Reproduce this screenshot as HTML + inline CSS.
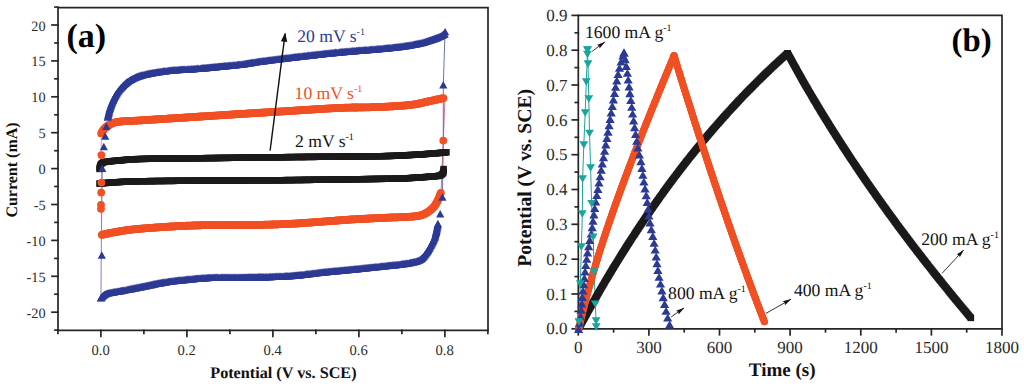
<!DOCTYPE html>
<html><head><meta charset="utf-8"><style>
html,body{margin:0;padding:0;background:#fff;width:1024px;height:387px;overflow:hidden}
svg{display:block}
text{font-family:"Liberation Serif",serif;text-rendering:geometricPrecision}
</style></head><body>
<svg width="1024" height="387" viewBox="0 0 1024 387">
<rect width="1024" height="387" fill="#fff"/>
<defs>
<marker id="sqK" markerUnits="userSpaceOnUse" markerWidth="8" markerHeight="8" refX="4" refY="4" overflow="visible"><rect x="0.8" y="0.8" width="6.4" height="6.4" fill="#1c1a1a"/></marker>
<marker id="ciR" markerUnits="userSpaceOnUse" markerWidth="9" markerHeight="9" refX="4.5" refY="4.5" overflow="visible"><circle cx="4.5" cy="4.5" r="3.9" fill="#f15024"/></marker>
<marker id="trB" markerUnits="userSpaceOnUse" markerWidth="9" markerHeight="9" refX="4.5" refY="4.5" overflow="visible"><path d="M4.5,0.8 L8.6,8.2 L0.4,8.2 Z" fill="#2d3a94"/></marker>
<marker id="ciR2" markerUnits="userSpaceOnUse" markerWidth="10" markerHeight="10" refX="5" refY="5" overflow="visible"><circle cx="5" cy="5" r="3.5" fill="#f15024"/></marker>
<marker id="sqK2" markerUnits="userSpaceOnUse" markerWidth="8" markerHeight="8" refX="4" refY="4" overflow="visible"><rect x="0.85" y="0.85" width="6.3" height="6.3" fill="#1c1a1a"/></marker>
<marker id="trB2" markerUnits="userSpaceOnUse" markerWidth="10" markerHeight="10" refX="5" refY="5" overflow="visible"><path d="M5,1.0 L9.6,8.9 L0.4,8.9 Z" fill="#2d3a94"/></marker>
<marker id="tdT" markerUnits="userSpaceOnUse" markerWidth="10" markerHeight="10" refX="5" refY="5" overflow="visible"><path d="M0.6,1.35 L9.4,1.35 L5,8.65 Z" fill="#1aa59b"/></marker>
<marker id="ah" markerUnits="userSpaceOnUse" markerWidth="10" markerHeight="8" refX="8" refY="4" orient="auto" overflow="visible"><path d="M0,0.8 L9,4 L0,7.2 Z" fill="#111"/></marker>
<marker id="ahS" markerUnits="userSpaceOnUse" markerWidth="9" markerHeight="6" refX="8" refY="3" orient="auto" overflow="visible"><path d="M0,0.8 L8.5,3 L0,5.2 L1.2,3 Z" fill="#111"/></marker>
</defs>
<g stroke="#262626" stroke-width="1.7" fill="none" stroke-linecap="square">
<path d="M58,7.6 H488 V330.3 H58 Z"/>
<path d="M55,330.1 H58"/>
<path d="M52,312.2 H58"/>
<path d="M55,294.2 H58"/>
<path d="M52,276.3 H58"/>
<path d="M55,258.4 H58"/>
<path d="M52,240.4 H58"/>
<path d="M55,222.4 H58"/>
<path d="M52,204.5 H58"/>
<path d="M55,186.5 H58"/>
<path d="M52,168.6 H58"/>
<path d="M55,150.7 H58"/>
<path d="M52,132.7 H58"/>
<path d="M55,114.8 H58"/>
<path d="M52,96.8 H58"/>
<path d="M55,78.8 H58"/>
<path d="M52,60.9 H58"/>
<path d="M55,43.0 H58"/>
<path d="M52,25.0 H58"/>
<path d="M55,7.1 H58"/>
<path d="M57.9,330.3 V333.3"/>
<path d="M100.9,330.3 V336.3"/>
<path d="M143.9,330.3 V333.3"/>
<path d="M186.9,330.3 V336.3"/>
<path d="M229.9,330.3 V333.3"/>
<path d="M272.9,330.3 V336.3"/>
<path d="M315.9,330.3 V333.3"/>
<path d="M358.9,330.3 V336.3"/>
<path d="M401.9,330.3 V333.3"/>
<path d="M444.9,330.3 V336.3"/>
<path d="M487.9,330.3 V333.3"/>
</g>
<g font-family="Liberation Serif" font-size="14.3" fill="#2a2a2a" text-anchor="end">
<text x="45.6" y="317.7">-20</text>
<text x="45.6" y="281.8">-15</text>
<text x="45.6" y="245.9">-10</text>
<text x="45.6" y="210.0">-5</text>
<text x="45.6" y="174.1">0</text>
<text x="45.6" y="138.2">5</text>
<text x="45.6" y="102.3">10</text>
<text x="45.6" y="66.4">15</text>
<text x="45.6" y="30.5">20</text>
</g>
<g font-family="Liberation Serif" font-size="14.6" fill="#2a2a2a" text-anchor="middle">
<text x="100.6" y="354.9">0.0</text>
<text x="186.6" y="354.9">0.2</text>
<text x="272.6" y="354.9">0.4</text>
<text x="358.6" y="354.9">0.6</text>
<text x="444.6" y="354.9">0.8</text>
</g>
<text x="283.4" y="378.4" font-family="Liberation Serif" font-weight="bold" font-size="16.2" text-anchor="middle" fill="#111">Potential (V vs. SCE)</text>
<text transform="translate(16.6,170) rotate(-90)" font-family="Liberation Serif" font-weight="bold" font-size="16" text-anchor="middle" fill="#111">Current (mA)</text>
<text x="66.4" y="46.6" font-family="Liberation Serif" font-weight="bold" font-size="34" fill="#000">(a)</text>
<path d="M445,32 L443.3,85 L443.3,141 L442.4,197.4" stroke="#2d3a94" stroke-width="0.9" fill="none" opacity="0.8"/>
<path d="M445,98 L443.3,141 L441,193" stroke="#c04060" stroke-width="0.9" fill="none" opacity="0.8"/>
<path d="M101,297 L101.2,255 L102.3,168" stroke="#2d3a94" stroke-width="0.9" fill="none" opacity="0.7"/>
<path d="M101.5,235 L101.3,208 L101.5,182 L101.2,134" stroke="#e06a70" stroke-width="0.9" fill="none" opacity="0.8"/>
<polyline fill="none" stroke="none" marker-start="url(#sqK)" marker-mid="url(#sqK)" marker-end="url(#sqK)" points="99.5,169.0 99.7,168.0 99.9,166.9 100.2,165.7 100.6,164.8 101.2,163.9 102.1,163.1 103.0,162.5 104.1,162.1 105.2,161.9 106.4,161.8 107.5,161.7 108.6,161.5 109.7,161.4 110.7,161.3 111.8,161.1 113.0,161.0 114.0,160.9 115.1,160.8 116.3,160.7 117.5,160.6 118.5,160.5 119.6,160.4 120.7,160.3 121.8,160.3 122.9,160.1 124.0,160.0 125.1,159.9 126.1,159.8 127.2,159.7 128.4,159.6 129.5,159.5 130.6,159.4 131.7,159.4 132.8,159.3 134.0,159.3 135.3,159.2 136.3,159.1 137.4,159.1 138.6,159.1 139.9,159.0 141.2,159.0 142.6,158.9 144.1,158.9 145.1,158.9 146.2,158.9 147.3,158.8 148.4,158.8 149.6,158.8 150.6,158.8 151.6,158.7 152.6,158.7 153.7,158.7 154.8,158.7 155.9,158.7 157.1,158.7 158.2,158.6 159.4,158.6 160.6,158.6 161.8,158.6 163.0,158.6 164.2,158.6 165.2,158.6 166.2,158.5 167.3,158.5 168.3,158.5 169.3,158.5 170.4,158.5 171.4,158.5 172.5,158.5 173.5,158.5 174.6,158.4 175.7,158.4 176.8,158.4 177.8,158.4 178.9,158.4 180.0,158.4 181.1,158.4 182.2,158.4 183.3,158.4 184.4,158.3 185.5,158.3 186.6,158.3 187.8,158.3 188.9,158.3 190.0,158.3 191.1,158.3 192.2,158.3 193.3,158.3 194.4,158.3 195.5,158.2 196.6,158.2 197.8,158.2 198.9,158.2 200.0,158.2 201.1,158.2 202.1,158.2 203.2,158.2 204.3,158.2 205.4,158.1 206.5,158.1 207.5,158.1 208.6,158.1 209.7,158.1 210.7,158.1 211.8,158.1 212.8,158.1 213.8,158.1 214.8,158.0 215.9,158.0 216.9,158.0 218.1,158.0 219.1,158.0 220.1,158.0 221.1,158.0 222.1,157.9 223.4,157.9 224.6,157.9 225.9,157.9 227.1,157.9 228.3,157.9 229.5,157.9 230.8,157.8 232.0,157.8 233.2,157.8 234.4,157.8 235.6,157.8 236.8,157.8 238.0,157.7 239.2,157.7 240.4,157.7 241.6,157.7 242.8,157.7 244.0,157.7 245.2,157.7 246.4,157.6 247.6,157.6 248.8,157.6 250.0,157.6 251.2,157.6 252.4,157.6 253.7,157.5 254.9,157.5 256.1,157.5 257.3,157.5 258.5,157.5 259.7,157.5 261.0,157.4 262.2,157.4 263.4,157.4 264.7,157.4 265.9,157.4 266.9,157.4 267.9,157.4 269.0,157.3 270.0,157.3 271.0,157.3 272.0,157.3 273.0,157.3 274.1,157.3 275.1,157.3 276.2,157.3 277.2,157.2 278.3,157.2 279.3,157.2 280.4,157.2 281.5,157.2 282.5,157.2 283.6,157.2 284.7,157.2 285.8,157.1 286.9,157.1 288.0,157.1 289.2,157.1 290.2,157.1 291.4,157.1 292.5,157.1 293.7,157.1 294.9,157.0 296.1,157.0 297.3,157.0 298.5,157.0 299.8,157.0 300.8,157.0 301.8,157.0 302.8,157.0 303.8,157.0 304.9,157.0 305.9,156.9 307.0,156.9 308.0,156.9 309.1,156.9 310.2,156.9 311.2,156.9 312.3,156.9 313.4,156.9 314.5,156.9 315.6,156.9 316.7,156.8 317.8,156.8 318.9,156.8 320.0,156.8 321.1,156.8 322.2,156.8 323.3,156.8 324.4,156.8 325.5,156.8 326.6,156.8 327.7,156.8 328.9,156.7 330.0,156.7 331.1,156.7 332.2,156.7 333.3,156.7 334.4,156.7 335.5,156.7 336.6,156.7 337.8,156.7 338.9,156.7 340.0,156.7 341.1,156.6 342.1,156.6 343.2,156.6 344.3,156.6 345.4,156.6 346.5,156.6 347.6,156.6 348.6,156.6 349.7,156.6 350.7,156.6 351.8,156.5 352.8,156.5 353.9,156.5 354.9,156.5 355.9,156.5 356.9,156.5 357.9,156.5 359.2,156.5 360.4,156.5 361.6,156.4 362.8,156.4 364.0,156.4 365.2,156.4 366.3,156.4 367.5,156.4 368.6,156.4 369.7,156.4 370.7,156.3 371.8,156.3 372.8,156.3 373.9,156.3 375.1,156.3 376.2,156.3 377.3,156.2 378.4,156.2 379.5,156.2 380.9,156.2 382.3,156.2 383.6,156.1 384.9,156.1 386.1,156.1 387.2,156.0 388.3,156.0 389.4,156.0 390.4,156.0 391.7,155.9 393.0,155.9 394.1,155.8 395.2,155.8 396.3,155.8 397.3,155.7 398.5,155.7 399.6,155.6 400.7,155.6 401.7,155.5 402.8,155.5 403.9,155.4 405.0,155.3 406.0,155.3 407.0,155.2 408.1,155.1 409.1,155.1 410.2,155.0 411.3,155.0 412.6,154.9 413.9,154.8 415.2,154.7 416.4,154.7 417.5,154.6 418.6,154.5 419.7,154.5 420.8,154.4 421.8,154.3 423.0,154.3 424.2,154.2 425.3,154.1 426.4,154.0 427.5,153.9 428.6,153.8 429.7,153.8 430.8,153.7 432.0,153.6 433.2,153.5 434.4,153.4 435.5,153.3 436.7,153.2 437.9,153.1 439.1,153.0 440.2,152.9 441.2,152.8 442.3,152.7 443.5,152.6 444.5,152.5 445.6,152.4 446.5,152.3"/>
<polyline fill="none" stroke="none" marker-start="url(#sqK)" marker-mid="url(#sqK)" marker-end="url(#sqK)" points="443.6,169.0 443.6,170.0 443.5,171.2 443.4,172.3 443.0,173.2 442.3,174.0 441.5,174.7 440.5,175.3 439.5,175.7 438.4,175.9 437.3,176.0 436.0,176.2 434.8,176.3 433.8,176.4 432.6,176.5 431.4,176.6 430.3,176.7 429.2,176.7 428.0,176.8 426.8,176.9 425.7,177.0 424.5,177.1 423.3,177.2 422.3,177.2 421.2,177.3 420.1,177.4 419.0,177.5 418.0,177.5 416.9,177.6 415.8,177.7 414.8,177.7 413.7,177.8 412.5,177.9 411.5,178.0 410.5,178.0 409.3,178.1 408.2,178.2 407.0,178.3 405.9,178.3 404.7,178.4 403.5,178.5 402.4,178.5 401.3,178.6 400.0,178.6 398.9,178.6 397.8,178.7 396.8,178.7 395.7,178.7 394.5,178.7 393.4,178.7 392.2,178.7 391.1,178.8 389.7,178.8 388.6,178.8 387.3,178.8 385.9,178.8 384.9,178.8 383.8,178.8 382.6,178.9 381.3,178.9 380.0,178.9 378.9,178.9 377.7,178.9 376.7,178.9 375.6,179.0 374.5,179.0 373.4,179.0 372.2,179.0 371.2,179.0 370.1,179.0 369.1,179.1 368.0,179.1 366.9,179.1 365.7,179.1 364.6,179.1 363.4,179.1 362.2,179.2 361.0,179.2 359.8,179.2 358.6,179.2 357.6,179.2 356.6,179.2 355.5,179.2 354.5,179.3 353.5,179.3 352.4,179.3 351.4,179.3 350.3,179.3 349.2,179.3 348.2,179.4 347.1,179.4 346.0,179.4 344.9,179.4 343.8,179.4 342.7,179.4 341.6,179.4 340.5,179.5 339.4,179.5 338.2,179.5 337.1,179.5 336.0,179.5 334.9,179.5 333.7,179.6 332.6,179.6 331.5,179.6 330.3,179.6 329.2,179.6 328.1,179.6 326.9,179.6 325.8,179.7 324.6,179.7 323.5,179.7 322.4,179.7 321.3,179.7 320.1,179.7 319.0,179.8 317.9,179.8 316.8,179.8 315.6,179.8 314.5,179.8 313.4,179.8 312.3,179.8 311.2,179.9 310.1,179.9 309.0,179.9 308.0,179.9 306.9,179.9 305.8,179.9 304.8,179.9 303.7,179.9 302.7,180.0 301.6,180.0 300.6,180.0 299.6,180.0 298.6,180.0 297.3,180.0 296.1,180.0 294.9,180.0 293.7,180.1 292.5,180.1 291.4,180.1 290.2,180.1 289.2,180.1 288.0,180.1 286.9,180.1 285.8,180.1 284.7,180.1 283.6,180.2 282.5,180.2 281.5,180.2 280.4,180.2 279.3,180.2 278.3,180.2 277.2,180.2 276.2,180.2 275.1,180.2 274.1,180.2 273.0,180.2 272.0,180.2 271.0,180.2 270.0,180.3 269.0,180.3 267.9,180.3 266.9,180.3 265.9,180.3 264.7,180.3 263.4,180.3 262.2,180.3 261.0,180.3 259.7,180.3 258.5,180.3 257.3,180.3 256.1,180.3 254.9,180.3 253.7,180.3 252.4,180.3 251.2,180.3 250.0,180.3 248.8,180.3 247.6,180.4 246.4,180.4 245.2,180.4 244.0,180.4 242.8,180.4 241.6,180.4 240.4,180.4 239.2,180.4 238.0,180.4 236.8,180.4 235.6,180.4 234.4,180.4 233.2,180.4 232.0,180.4 230.8,180.4 229.5,180.4 228.3,180.4 227.1,180.4 225.9,180.4 224.6,180.5 223.4,180.5 222.1,180.5 221.1,180.5 220.1,180.5 219.1,180.5 218.1,180.5 216.9,180.5 215.9,180.5 214.8,180.5 213.8,180.5 212.8,180.5 211.8,180.5 210.7,180.6 209.7,180.6 208.6,180.6 207.5,180.6 206.5,180.6 205.4,180.6 204.3,180.6 203.2,180.6 202.1,180.6 201.1,180.6 200.0,180.6 198.9,180.6 197.8,180.7 196.6,180.7 195.5,180.7 194.4,180.7 193.3,180.7 192.2,180.7 191.1,180.7 190.0,180.7 188.9,180.7 187.8,180.7 186.6,180.8 185.5,180.8 184.4,180.8 183.3,180.8 182.2,180.8 181.1,180.8 180.0,180.8 178.9,180.8 177.8,180.8 176.8,180.8 175.7,180.8 174.6,180.9 173.5,180.9 172.5,180.9 171.4,180.9 170.4,180.9 169.3,180.9 168.3,180.9 167.3,180.9 166.2,180.9 165.2,180.9 164.2,181.0 163.0,181.0 161.8,181.0 160.6,181.0 159.4,181.0 158.2,181.0 157.1,181.0 155.9,181.0 154.8,181.1 153.7,181.1 152.6,181.1 151.6,181.1 150.6,181.1 149.6,181.1 148.4,181.1 147.3,181.2 146.2,181.2 145.1,181.2 144.1,181.2 143.1,181.2 141.7,181.2 140.3,181.3 139.0,181.3 137.8,181.3 136.7,181.3 135.6,181.4 134.6,181.4 133.4,181.4 132.2,181.5 131.1,181.5 129.9,181.5 128.8,181.6 127.8,181.6 126.7,181.7 125.6,181.7 124.5,181.8 123.4,181.8 122.3,181.9 121.3,181.9 120.2,182.0 118.9,182.1 117.9,182.1 116.6,182.2 115.5,182.2 114.4,182.3 113.2,182.4 112.1,182.5 111.0,182.6 110.0,182.6 108.9,182.7 107.9,182.8 106.7,182.9 105.4,183.0 104.2,183.1 103.1,183.2 102.0,183.3 100.9,183.5 99.8,183.6 99.5,183.6"/>
<polyline fill="none" stroke="none" marker-start="url(#ciR)" marker-mid="url(#ciR)" marker-end="url(#ciR)" points="101.2,133.4 101.8,132.4 102.4,131.4 103.0,130.3 103.7,129.4 104.4,128.6 105.1,127.9 106.0,127.2 106.8,126.6 107.6,126.0 108.4,125.4 109.2,124.9 110.1,124.3 111.0,123.8 112.0,123.3 113.1,122.9 114.1,122.6 115.3,122.3 116.5,122.1 117.5,121.9 118.6,121.8 119.8,121.6 120.9,121.5 122.0,121.4 123.1,121.3 124.4,121.2 125.4,121.2 126.4,121.1 127.5,121.0 128.5,121.0 129.7,121.0 130.9,120.9 132.1,120.8 133.2,120.8 134.6,120.7 135.7,120.7 137.0,120.6 138.4,120.5 139.5,120.4 140.5,120.4 141.5,120.3 142.6,120.2 143.8,120.2 145.0,120.1 146.0,120.0 147.1,120.0 148.2,119.9 149.3,119.8 150.5,119.7 151.7,119.7 152.9,119.6 154.1,119.5 155.1,119.4 156.2,119.4 157.2,119.3 158.3,119.2 159.3,119.2 160.4,119.1 161.5,119.0 162.5,119.0 163.6,118.9 164.7,118.8 165.8,118.8 166.9,118.7 168.1,118.6 169.2,118.5 170.3,118.5 171.4,118.4 172.5,118.3 173.6,118.3 174.8,118.2 175.9,118.1 177.0,118.0 178.1,118.0 179.2,117.9 180.3,117.8 181.4,117.8 182.5,117.7 183.5,117.6 184.6,117.6 185.6,117.5 186.7,117.4 187.7,117.4 188.7,117.3 189.7,117.2 191.0,117.1 192.2,117.1 193.2,117.0 194.3,116.9 195.3,116.9 196.3,116.8 197.3,116.7 198.4,116.7 199.4,116.6 200.4,116.5 201.4,116.5 202.4,116.4 203.4,116.3 204.6,116.3 205.9,116.2 207.1,116.1 208.3,116.0 209.6,115.9 210.8,115.9 212.0,115.8 213.3,115.7 214.5,115.6 215.7,115.6 217.0,115.5 218.2,115.4 219.4,115.3 220.6,115.2 221.9,115.2 223.1,115.1 224.4,115.0 225.6,114.9 226.8,114.8 228.1,114.8 229.1,114.7 230.1,114.6 231.1,114.6 232.1,114.5 233.1,114.4 234.1,114.4 235.1,114.3 236.1,114.2 237.2,114.2 238.2,114.1 239.2,114.0 240.2,114.0 241.5,113.9 242.7,113.8 243.9,113.8 245.1,113.7 246.4,113.6 247.6,113.5 248.8,113.4 250.1,113.4 251.1,113.3 252.1,113.2 253.1,113.2 254.1,113.1 255.1,113.1 256.1,113.0 257.1,112.9 258.1,112.9 259.1,112.8 260.1,112.7 261.2,112.7 262.2,112.6 263.2,112.6 264.2,112.5 265.2,112.4 266.2,112.4 267.2,112.3 268.3,112.2 269.3,112.2 270.3,112.1 271.3,112.1 272.3,112.0 273.3,111.9 274.3,111.9 275.3,111.8 276.4,111.7 277.4,111.7 278.4,111.6 279.4,111.6 280.4,111.5 281.4,111.4 282.6,111.4 283.9,111.3 285.1,111.2 286.3,111.1 287.6,111.1 288.8,111.0 290.0,110.9 291.2,110.8 292.2,110.8 293.3,110.7 294.3,110.6 295.3,110.6 296.4,110.5 297.4,110.4 298.5,110.4 299.5,110.3 300.5,110.2 301.6,110.2 302.6,110.1 303.7,110.0 304.7,110.0 305.7,109.9 306.8,109.8 307.8,109.8 308.8,109.7 309.9,109.6 310.9,109.6 311.9,109.5 313.0,109.4 314.0,109.4 315.0,109.3 316.0,109.2 317.0,109.2 318.1,109.1 319.1,109.1 320.1,109.0 321.1,108.9 322.1,108.9 323.3,108.8 324.6,108.7 325.8,108.6 327.0,108.6 328.2,108.5 329.5,108.4 330.7,108.4 331.9,108.3 333.1,108.2 334.2,108.2 335.4,108.1 336.6,108.1 337.7,108.0 338.9,108.0 340.0,107.9 341.1,107.9 342.2,107.8 343.3,107.8 344.4,107.7 345.5,107.7 346.6,107.7 347.7,107.6 348.7,107.6 349.8,107.6 350.8,107.6 351.9,107.5 352.9,107.5 354.0,107.5 355.0,107.5 356.0,107.5 357.0,107.5 358.0,107.4 359.0,107.4 360.3,107.4 361.5,107.4 362.7,107.4 364.0,107.4 365.2,107.3 366.4,107.3 367.6,107.3 368.8,107.3 370.0,107.3 371.1,107.2 372.3,107.2 373.5,107.2 374.6,107.2 375.8,107.1 377.0,107.1 378.1,107.0 379.4,107.0 380.5,106.9 381.6,106.9 382.7,106.8 383.8,106.8 384.8,106.7 385.9,106.7 387.0,106.6 388.1,106.6 389.2,106.5 390.3,106.4 391.3,106.4 392.4,106.3 393.4,106.3 394.5,106.2 395.5,106.1 396.5,106.1 397.6,106.0 398.6,105.9 399.8,105.8 401.0,105.7 402.3,105.7 403.4,105.6 404.6,105.5 405.8,105.4 406.9,105.2 408.0,105.1 409.0,105.0 410.1,104.9 411.1,104.8 412.4,104.6 413.6,104.5 414.8,104.3 416.0,104.1 417.1,103.9 418.2,103.7 419.2,103.5 420.2,103.3 421.2,103.1 422.4,102.8 423.5,102.5 424.6,102.3 425.7,102.0 426.8,101.7 427.8,101.5 428.9,101.3 429.9,101.0 431.1,100.8 432.4,100.5 433.6,100.3 434.8,100.0 436.0,99.7 437.1,99.5 438.2,99.3 439.2,99.0 440.4,98.8 441.4,98.5 442.5,98.3 443.4,98.1"/>
<polyline fill="none" stroke="none" marker-start="url(#ciR)" marker-mid="url(#ciR)" marker-end="url(#ciR)" points="440.8,192.8 440.5,193.8 440.1,194.9 439.7,196.0 439.3,197.1 438.8,198.3 438.3,199.3 437.8,200.3 437.3,201.4 436.8,202.3 436.3,203.2 435.8,204.1 435.2,205.0 434.6,205.9 434.0,206.7 433.2,207.6 432.3,208.5 431.4,209.3 430.6,210.0 429.8,210.6 429.0,211.2 428.2,211.8 427.3,212.3 426.4,212.9 425.3,213.4 424.4,213.9 423.4,214.4 422.4,214.8 421.4,215.2 420.2,215.5 419.1,215.7 417.9,215.9 416.7,216.1 415.5,216.2 414.3,216.4 413.2,216.5 412.2,216.6 411.1,216.6 410.0,216.7 408.9,216.8 407.7,216.8 406.4,216.9 405.4,217.0 404.4,217.0 403.4,217.0 402.3,217.1 401.2,217.1 400.1,217.2 399.0,217.2 397.9,217.3 396.8,217.3 395.7,217.3 394.6,217.4 393.5,217.4 392.4,217.4 391.3,217.5 390.2,217.5 389.1,217.6 388.0,217.6 386.9,217.7 385.9,217.7 384.8,217.8 383.8,217.8 382.8,217.8 381.8,217.9 380.8,217.9 379.8,218.0 378.8,218.0 377.8,218.1 376.8,218.1 375.8,218.2 374.8,218.2 373.8,218.3 372.8,218.3 371.8,218.4 370.8,218.4 369.8,218.5 368.8,218.5 367.8,218.6 366.8,218.6 365.8,218.7 364.8,218.7 363.8,218.8 362.8,218.8 361.8,218.9 360.8,218.9 359.8,219.0 358.8,219.0 357.8,219.1 356.8,219.1 355.8,219.2 354.8,219.3 353.8,219.3 352.8,219.4 351.8,219.4 350.8,219.5 349.8,219.6 348.8,219.6 347.8,219.7 346.8,219.8 345.8,219.9 344.8,219.9 343.8,220.0 342.8,220.1 341.8,220.1 340.8,220.2 339.8,220.3 338.8,220.4 337.8,220.5 336.8,220.5 335.8,220.6 334.8,220.7 333.8,220.8 332.8,220.8 331.8,220.9 330.8,221.0 329.8,221.1 328.8,221.1 327.8,221.2 326.5,221.3 325.3,221.4 324.0,221.5 322.8,221.6 321.5,221.7 320.5,221.8 319.3,221.8 318.1,221.9 316.9,222.0 315.6,222.1 314.4,222.2 313.2,222.3 312.0,222.4 310.8,222.5 309.7,222.6 308.5,222.7 307.3,222.7 306.0,222.8 304.8,222.9 303.6,223.0 302.4,223.1 301.1,223.2 300.1,223.2 299.1,223.3 298.1,223.4 297.1,223.4 296.0,223.5 295.0,223.6 293.9,223.6 292.8,223.7 291.7,223.7 290.6,223.8 289.4,223.8 288.3,223.9 287.1,223.9 285.9,224.0 284.7,224.0 283.5,224.1 282.3,224.1 281.1,224.2 279.9,224.2 278.6,224.3 277.4,224.3 276.4,224.4 275.4,224.4 274.4,224.4 273.4,224.5 272.3,224.5 271.3,224.5 270.3,224.6 269.3,224.6 268.2,224.6 267.2,224.7 266.2,224.7 265.1,224.7 264.1,224.7 263.1,224.8 262.0,224.8 261.0,224.8 260.0,224.8 258.9,224.9 257.9,224.9 256.9,224.9 255.9,224.9 254.8,224.9 253.8,225.0 252.8,225.0 251.8,225.0 250.8,225.0 249.8,225.0 248.8,225.0 247.8,225.0 246.8,225.0 245.8,225.1 244.8,225.1 243.8,225.1 242.8,225.1 241.8,225.1 240.8,225.0 239.8,225.0 238.8,225.0 237.8,225.0 236.8,225.0 235.8,225.0 234.8,225.0 233.8,225.0 232.8,225.0 231.8,225.0 230.8,225.0 229.8,225.0 228.7,225.0 227.7,225.0 226.7,224.9 225.7,224.9 224.7,224.9 223.7,224.9 222.7,224.9 221.7,224.9 220.7,224.9 219.7,224.9 218.7,224.9 217.7,224.9 216.7,224.9 215.7,225.0 214.7,225.0 213.7,225.0 212.7,225.0 211.7,225.0 210.7,225.0 209.7,225.0 208.7,225.1 207.7,225.1 206.7,225.1 205.7,225.1 204.7,225.2 203.7,225.2 202.7,225.2 201.7,225.2 200.7,225.3 199.7,225.3 198.7,225.3 197.7,225.4 196.7,225.4 195.7,225.4 194.6,225.4 193.6,225.5 192.6,225.5 191.6,225.6 190.6,225.6 189.6,225.6 188.6,225.7 187.6,225.7 186.6,225.7 185.6,225.8 184.6,225.8 183.6,225.9 182.6,225.9 181.6,226.0 180.6,226.0 179.6,226.1 178.6,226.1 177.6,226.2 176.6,226.2 175.6,226.3 174.6,226.3 173.6,226.4 172.6,226.4 171.6,226.5 170.6,226.5 169.5,226.6 168.5,226.7 167.4,226.7 166.4,226.8 165.3,226.9 164.2,226.9 163.2,227.0 162.1,227.1 161.0,227.1 159.9,227.2 158.8,227.3 157.8,227.4 156.7,227.4 155.6,227.5 154.5,227.6 153.4,227.7 152.4,227.8 151.3,227.8 150.3,227.9 149.2,228.0 148.2,228.1 147.2,228.2 146.2,228.2 145.2,228.3 143.9,228.4 142.7,228.5 141.5,228.6 140.4,228.7 139.3,228.8 138.2,228.9 137.1,229.0 136.1,229.1 135.1,229.2 133.7,229.3 132.7,229.4 131.6,229.6 130.3,229.7 129.1,229.9 127.9,230.0 126.8,230.2 125.7,230.3 124.7,230.5 123.5,230.6 122.3,230.8 121.2,231.0 120.2,231.2 119.1,231.4 118.1,231.6 117.1,231.7 116.1,231.9 115.1,232.1 113.9,232.3 112.6,232.5 111.4,232.8 110.2,233.0 109.0,233.2 107.9,233.5 106.8,233.7 105.8,233.9 104.6,234.2 103.6,234.4 102.5,234.7 101.8,234.8"/>
<polyline fill="none" stroke="none" marker-start="url(#trB)" marker-mid="url(#trB)" marker-end="url(#trB)" points="107.8,117.0 108.1,115.9 108.3,114.8 108.5,113.8 108.8,112.8 109.0,111.7 109.3,110.5 109.6,109.4 109.9,108.3 110.3,107.3 110.7,106.1 111.1,105.0 111.4,104.0 111.8,103.1 112.2,102.1 112.6,101.1 113.0,100.2 113.4,99.3 113.8,98.3 114.4,97.2 114.8,96.3 115.4,95.5 115.9,94.6 116.4,93.7 117.0,92.9 117.7,91.9 118.4,90.9 119.2,89.9 120.0,88.9 120.8,88.0 121.6,87.1 122.5,86.2 123.3,85.3 124.2,84.4 125.1,83.6 125.9,83.0 126.6,82.3 127.5,81.7 128.3,81.1 129.4,80.4 130.4,79.8 131.4,79.2 132.5,78.7 133.6,78.1 134.7,77.6 135.6,77.2 136.6,76.8 137.6,76.4 138.6,76.0 139.7,75.7 140.7,75.3 141.8,75.0 142.9,74.7 144.1,74.4 145.3,74.1 146.3,73.9 147.3,73.7 148.3,73.5 149.3,73.3 150.4,73.1 151.4,72.9 152.4,72.8 153.5,72.6 154.5,72.4 155.5,72.2 156.5,72.1 157.5,71.9 158.7,71.7 159.9,71.5 161.1,71.3 162.3,71.2 163.5,71.0 164.7,70.9 165.9,70.7 167.2,70.6 168.2,70.4 169.2,70.3 170.3,70.2 171.3,70.1 172.5,70.0 173.6,69.9 174.7,69.8 175.9,69.7 177.0,69.6 178.2,69.5 179.5,69.5 180.7,69.4 181.7,69.3 182.7,69.3 183.7,69.2 184.8,69.2 185.8,69.1 186.9,69.1 187.9,69.0 188.9,68.9 190.0,68.9 191.1,68.8 192.1,68.7 193.2,68.7 194.2,68.6 195.2,68.5 196.5,68.4 197.7,68.3 198.9,68.2 200.2,68.1 201.4,68.0 202.4,67.9 203.4,67.8 204.4,67.8 205.4,67.7 206.4,67.6 207.4,67.5 208.5,67.4 209.5,67.3 210.5,67.2 211.5,67.1 212.5,67.0 213.5,66.9 214.5,66.8 215.5,66.7 216.5,66.6 217.5,66.5 218.5,66.4 219.6,66.3 220.6,66.2 221.6,66.1 222.6,66.0 223.6,65.9 224.7,65.8 225.7,65.7 226.7,65.6 227.8,65.5 228.8,65.4 229.8,65.3 230.9,65.2 231.9,65.1 232.9,65.0 233.9,64.9 234.9,64.8 236.1,64.7 237.4,64.5 238.6,64.4 239.7,64.3 240.9,64.1 242.0,64.0 243.1,63.9 244.1,63.7 245.3,63.5 246.4,63.4 247.4,63.2 248.4,63.0 249.4,62.9 250.4,62.7 251.5,62.5 252.7,62.3 253.9,62.1 255.0,61.9 256.2,61.7 257.4,61.6 258.5,61.4 259.6,61.3 260.7,61.1 261.9,60.9 262.9,60.8 263.9,60.7 265.0,60.5 266.1,60.4 267.3,60.3 268.4,60.1 269.6,60.0 270.8,59.8 272.0,59.6 273.0,59.5 274.1,59.4 275.1,59.3 276.1,59.1 277.2,59.0 278.2,58.9 279.3,58.7 280.3,58.6 281.4,58.5 282.5,58.3 283.6,58.2 284.6,58.1 285.7,58.0 286.8,57.8 287.9,57.7 289.0,57.6 290.1,57.4 291.1,57.3 292.2,57.2 293.3,57.0 294.4,56.9 295.4,56.8 296.5,56.7 297.5,56.6 298.5,56.4 299.8,56.3 301.0,56.1 302.2,56.0 303.5,55.9 304.7,55.7 305.9,55.6 306.9,55.5 307.9,55.3 308.9,55.2 309.9,55.1 310.9,55.0 311.9,54.9 312.9,54.8 314.0,54.7 315.0,54.5 316.0,54.4 317.0,54.3 318.0,54.2 319.0,54.1 320.0,54.0 321.0,53.9 322.1,53.8 323.1,53.6 324.1,53.5 325.1,53.4 326.1,53.3 327.1,53.2 328.1,53.1 329.1,53.0 330.1,52.9 331.1,52.8 332.1,52.7 333.1,52.6 334.4,52.5 335.6,52.3 336.8,52.2 338.1,52.1 339.3,52.0 340.5,51.9 341.6,51.8 342.6,51.7 343.7,51.6 344.7,51.5 345.8,51.4 346.8,51.3 347.9,51.2 349.0,51.1 350.0,51.0 351.1,50.9 352.2,50.8 353.2,50.7 354.3,50.7 355.4,50.6 356.4,50.5 357.5,50.4 358.6,50.3 359.6,50.2 360.7,50.2 361.7,50.1 362.7,50.0 363.8,49.9 364.8,49.8 365.8,49.8 366.8,49.7 368.0,49.6 369.2,49.5 370.4,49.4 371.6,49.3 372.8,49.2 373.9,49.1 375.0,49.0 376.1,48.9 377.2,48.8 378.2,48.8 379.5,48.6 380.8,48.5 382.0,48.4 383.2,48.3 384.4,48.2 385.5,48.1 386.6,48.0 387.7,47.8 388.8,47.7 389.8,47.6 391.0,47.5 392.2,47.4 393.4,47.2 394.5,47.1 395.6,47.0 396.7,46.9 397.8,46.7 398.9,46.6 399.9,46.5 401.0,46.3 402.0,46.2 403.2,46.0 404.4,45.9 405.6,45.7 406.7,45.5 407.8,45.4 408.9,45.2 409.9,45.0 410.9,44.9 412.1,44.6 413.3,44.4 414.4,44.2 415.5,44.0 416.5,43.8 417.5,43.6 418.7,43.3 419.8,43.1 420.8,42.9 421.9,42.6 423.0,42.3 424.1,42.0 425.2,41.6 426.2,41.3 427.4,40.9 428.5,40.6 429.5,40.2 430.5,39.9 431.6,39.6 432.6,39.2 433.6,38.9 434.6,38.5 435.6,38.2 436.7,37.8 437.7,37.4 438.7,36.9 439.9,36.4 441.0,35.9 442.0,35.3 442.8,34.8 443.8,34.3 444.6,33.8"/>
<polyline fill="none" stroke="none" marker-start="url(#trB)" marker-mid="url(#trB)" marker-end="url(#trB)" points="437.9,223.5 437.7,224.5 437.5,225.7 437.3,226.8 437.0,228.0 436.8,229.1 436.6,230.2 436.3,231.3 436.1,232.2 435.8,233.4 435.5,234.6 435.2,235.8 434.9,236.8 434.5,237.8 434.0,238.9 433.5,240.0 433.1,240.9 432.6,241.9 432.1,242.8 431.6,243.7 431.1,244.7 430.6,245.6 430.0,246.7 429.5,247.6 429.0,248.5 428.5,249.4 428.0,250.3 427.5,251.1 426.9,252.0 426.3,252.8 425.6,253.8 424.9,254.8 424.1,255.8 423.4,256.7 422.5,257.6 421.8,258.3 420.9,259.0 420.0,259.6 419.0,260.1 418.0,260.5 417.0,260.9 416.0,261.2 414.9,261.5 413.7,261.8 412.7,262.1 411.6,262.3 410.4,262.5 409.2,262.7 407.9,263.0 406.8,263.2 405.8,263.3 404.8,263.5 403.7,263.6 402.6,263.8 401.5,263.9 400.3,264.1 399.1,264.2 397.9,264.4 396.9,264.5 395.9,264.6 394.9,264.7 393.8,264.8 392.8,264.9 391.7,265.1 390.6,265.2 389.5,265.3 388.4,265.4 387.2,265.5 386.1,265.6 385.0,265.8 383.8,265.9 382.7,266.0 381.6,266.1 380.4,266.3 379.2,266.4 378.0,266.5 376.8,266.6 375.6,266.8 374.4,266.9 373.4,267.0 372.4,267.1 371.3,267.2 370.3,267.3 369.3,267.4 368.2,267.5 367.2,267.6 366.2,267.7 365.1,267.8 364.1,267.9 363.0,268.0 362.0,268.1 361.0,268.3 359.9,268.4 358.9,268.5 357.8,268.6 356.8,268.7 355.8,268.8 354.8,268.9 353.8,269.0 352.8,269.1 351.8,269.2 350.8,269.3 349.8,269.4 348.8,269.5 347.8,269.6 346.8,269.7 345.8,269.8 344.8,269.9 343.8,270.0 342.8,270.1 341.8,270.2 340.8,270.3 339.8,270.4 338.8,270.5 337.8,270.6 336.8,270.6 335.8,270.7 334.8,270.8 333.8,270.9 332.8,271.0 331.8,271.1 330.8,271.2 329.8,271.3 328.8,271.4 327.8,271.5 326.8,271.6 325.8,271.7 324.8,271.8 323.8,271.9 322.8,272.0 321.8,272.1 320.8,272.3 319.8,272.4 318.6,272.5 317.3,272.6 316.1,272.8 314.9,272.9 313.7,273.1 312.5,273.2 311.3,273.4 310.1,273.5 308.9,273.7 307.7,273.8 306.5,274.0 305.3,274.1 304.1,274.3 302.9,274.4 301.6,274.6 300.6,274.7 299.6,274.8 298.6,274.9 297.6,275.0 296.5,275.1 295.5,275.2 294.4,275.3 293.3,275.4 292.3,275.5 291.1,275.5 290.1,275.6 288.9,275.7 287.8,275.8 286.6,275.8 285.5,275.9 284.3,276.0 283.1,276.0 281.8,276.1 280.6,276.1 279.4,276.2 278.1,276.2 277.1,276.3 276.1,276.3 275.1,276.4 274.1,276.4 273.1,276.4 272.1,276.5 271.0,276.5 270.0,276.5 269.0,276.6 268.0,276.6 266.9,276.6 265.9,276.7 264.9,276.7 263.8,276.7 262.8,276.7 261.8,276.8 260.7,276.8 259.7,276.8 258.7,276.8 257.6,276.9 256.6,276.9 255.6,276.9 254.6,276.9 253.6,277.0 252.6,277.0 251.6,277.0 250.5,277.0 249.5,277.0 248.5,277.0 247.5,277.1 246.5,277.1 245.4,277.1 244.4,277.1 243.4,277.1 242.3,277.1 241.3,277.1 240.3,277.1 239.2,277.1 238.2,277.1 237.1,277.1 236.1,277.1 235.0,277.1 234.0,277.1 233.0,277.1 231.9,277.1 230.9,277.1 229.9,277.1 228.8,277.1 227.8,277.1 226.8,277.1 225.8,277.1 224.8,277.1 223.8,277.1 222.5,277.1 221.3,277.1 220.1,277.1 218.9,277.1 217.7,277.1 216.5,277.2 215.3,277.2 214.2,277.2 213.1,277.3 211.9,277.3 210.7,277.4 209.6,277.4 208.5,277.5 207.3,277.5 206.2,277.6 205.1,277.7 204.0,277.7 202.9,277.8 201.9,277.9 200.8,278.0 199.8,278.1 198.7,278.2 197.7,278.2 196.7,278.3 195.7,278.4 194.5,278.5 193.3,278.7 192.1,278.8 190.9,278.9 189.7,279.0 188.6,279.1 187.4,279.2 186.3,279.3 185.2,279.5 184.2,279.6 183.1,279.7 182.0,279.8 180.8,279.9 179.6,280.0 178.5,280.2 177.5,280.3 176.4,280.4 175.4,280.5 174.2,280.6 173.0,280.8 171.8,280.9 170.7,281.1 169.5,281.3 168.4,281.4 167.2,281.6 166.1,281.8 164.9,282.0 163.6,282.2 162.7,282.3 161.7,282.5 160.7,282.7 159.7,282.9 158.7,283.0 157.7,283.2 156.7,283.4 155.7,283.6 154.7,283.8 153.7,284.0 152.7,284.2 151.7,284.5 150.7,284.7 149.8,284.9 148.8,285.1 147.8,285.3 146.8,285.5 145.8,285.7 144.8,285.9 143.8,286.1 142.8,286.3 141.8,286.5 140.8,286.7 139.8,286.9 138.8,287.1 137.8,287.3 136.8,287.5 135.8,287.7 134.8,287.9 133.8,288.1 132.8,288.3 131.8,288.5 130.8,288.7 129.8,288.9 128.6,289.1 127.4,289.4 126.2,289.6 125.0,289.9 123.8,290.1 122.7,290.3 121.6,290.5 120.5,290.7 119.4,290.9 118.3,291.1 117.2,291.2 116.1,291.4 115.0,291.6 114.0,291.8 113.0,292.0 111.9,292.1 110.7,292.4 109.6,292.6 108.5,292.9 107.6,293.1 106.3,293.5 105.2,294.0 104.4,294.5 103.4,295.2 102.6,296.0 101.9,296.8 101.2,297.6 100.9,297.9"/>
<polyline fill="none" stroke="none" marker-mid="url(#ciR)" marker-start="url(#ciR)" marker-end="url(#ciR)" points="101.4,155.1 101.4,182.6 101.2,192.6 101,204.8 101,208.8 443.3,140.6"/>
<polyline fill="none" stroke="none" marker-mid="url(#trB)" marker-start="url(#trB)" marker-end="url(#trB)" points="102.3,168.3 103.8,146.5 105.2,136 106.3,126.3 101.8,255 443.3,84.7 445.1,31.6 442.4,197 440.2,213.8"/>
<g font-family="Liberation Serif" font-size="17.6">
<text x="297.3" y="42.3" fill="#2d3a94">20 mV s<tspan font-size="10" dy="-7">-1</tspan></text>
<text x="294.6" y="98.5" fill="#f15024">10 mV s<tspan font-size="10" dy="-7">-1</tspan></text>
<text x="295" y="147.2" fill="#111">2 mV s<tspan font-size="10" dy="-7">-1</tspan></text>
</g>
<path d="M270.1,150.7 L285.1,33.6" stroke="#111" stroke-width="1.4" fill="none" marker-end="url(#ah)"/>
<g stroke="#262626" stroke-width="1.7" fill="none" stroke-linecap="square">
<path d="M578.3,15.4 H1002 V328.8 H578.3 Z"/>
<path d="M572.3,328.8 H578.3"/>
<path d="M575.3,311.4 H578.3"/>
<path d="M572.3,294.0 H578.3"/>
<path d="M575.3,276.6 H578.3"/>
<path d="M572.3,259.2 H578.3"/>
<path d="M575.3,241.7 H578.3"/>
<path d="M572.3,224.3 H578.3"/>
<path d="M575.3,206.9 H578.3"/>
<path d="M572.3,189.5 H578.3"/>
<path d="M575.3,172.1 H578.3"/>
<path d="M572.3,154.7 H578.3"/>
<path d="M575.3,137.3 H578.3"/>
<path d="M572.3,119.9 H578.3"/>
<path d="M575.3,102.5 H578.3"/>
<path d="M572.3,85.0 H578.3"/>
<path d="M575.3,67.6 H578.3"/>
<path d="M572.3,50.2 H578.3"/>
<path d="M575.3,32.8 H578.3"/>
<path d="M572.3,15.4 H578.3"/>
<path d="M578.3,328.8 V334.8"/>
<path d="M613.6,328.8 V331.8"/>
<path d="M648.9,328.8 V334.8"/>
<path d="M684.2,328.8 V331.8"/>
<path d="M719.5,328.8 V334.8"/>
<path d="M754.8,328.8 V331.8"/>
<path d="M790.1,328.8 V334.8"/>
<path d="M825.5,328.8 V331.8"/>
<path d="M860.8,328.8 V334.8"/>
<path d="M896.1,328.8 V331.8"/>
<path d="M931.4,328.8 V334.8"/>
<path d="M966.7,328.8 V331.8"/>
<path d="M1002.0,328.8 V334.8"/>
</g>
<g font-family="Liberation Serif" font-size="17" fill="#2a2a2a" text-anchor="end">
<text x="567.6" y="334.4">0.0</text>
<text x="567.6" y="299.6">0.1</text>
<text x="567.6" y="264.8">0.2</text>
<text x="567.6" y="229.9">0.3</text>
<text x="567.6" y="195.1">0.4</text>
<text x="567.6" y="160.3">0.5</text>
<text x="567.6" y="125.5">0.6</text>
<text x="567.6" y="90.6">0.7</text>
<text x="567.6" y="55.8">0.8</text>
<text x="567.6" y="21.0">0.9</text>
</g>
<g font-family="Liberation Serif" font-size="17" fill="#2a2a2a" text-anchor="middle">
<text x="578.3" y="352.5">0</text>
<text x="648.9" y="352.5">300</text>
<text x="719.5" y="352.5">600</text>
<text x="790.1" y="352.5">900</text>
<text x="860.8" y="352.5">1200</text>
<text x="931.4" y="352.5">1500</text>
<text x="1002.0" y="352.5">1800</text>
</g>
<text x="782.2" y="376.1" font-family="Liberation Serif" font-weight="bold" font-size="19" text-anchor="middle" fill="#111">Time (s)</text>
<text transform="translate(530.6,177.8) rotate(-90)" font-family="Liberation Serif" font-weight="bold" font-size="19.7" text-anchor="middle" fill="#111">Potential (V vs. SCE)</text>
<text x="951.5" y="51.4" font-family="Liberation Serif" font-weight="bold" font-size="32.8" fill="#000">(b)</text>
<polyline points="578.6,329.0 580.3,284.0 581.4,248.0 582.3,214.0 582.6,179.0 583.8,145.0 585.2,113.0 586.3,82.0 587.5,50.0" stroke="#1aa59b" stroke-width="1" fill="none"/>
<polyline points="587.5,50.0 587.5,54.5 588.0,64.0 588.8,99.0 589.5,133.5 590.6,168.0 591.6,203.6 593.2,237.2 594.2,272.0 595.3,304.2 596.1,321.0 596.2,327.0" stroke="#1aa59b" stroke-width="1" fill="none"/>
<polyline fill="none" stroke="none" marker-start="url(#sqK2)" marker-mid="url(#sqK2)" marker-end="url(#sqK2)" points="578.6,328.5 579.1,327.5 579.6,326.6 580.2,325.6 580.7,324.7 581.2,323.7 581.8,322.7 582.4,321.6 582.9,320.7 583.4,319.7 584.0,318.8 584.5,317.8 585.0,316.8 585.6,315.8 586.2,314.8 586.7,313.8 587.3,312.7 587.8,311.7 588.4,310.7 589.0,309.7 589.5,308.7 590.1,307.7 590.6,306.7 591.1,305.8 591.7,304.9 592.2,304.0 592.7,303.1 593.2,302.2 593.7,301.3 594.2,300.5 594.7,299.6 595.2,298.7 595.7,297.8 596.2,296.9 596.7,296.1 597.2,295.2 597.7,294.3 598.2,293.4 598.7,292.6 599.2,291.7 599.7,290.8 600.3,289.8 600.9,288.7 601.6,287.6 602.2,286.5 602.8,285.5 603.5,284.4 604.1,283.3 604.7,282.3 605.3,281.2 606.0,280.1 606.6,279.1 607.1,278.2 607.6,277.3 608.2,276.5 608.7,275.6 609.2,274.7 609.7,273.8 610.2,273.0 610.8,272.1 611.3,271.3 611.8,270.4 612.3,269.5 612.8,268.7 613.4,267.8 613.9,267.0 614.4,266.1 615.1,265.0 615.7,264.0 616.4,262.9 617.0,261.9 617.7,260.8 618.3,259.7 619.0,258.7 619.6,257.6 620.3,256.6 620.8,255.7 621.3,254.9 621.9,254.0 622.4,253.1 623.0,252.3 623.5,251.4 624.1,250.6 624.6,249.7 625.1,248.8 625.7,248.0 626.2,247.1 626.8,246.3 627.3,245.4 627.8,244.6 628.4,243.7 628.9,242.9 629.5,242.1 630.0,241.2 630.7,240.2 631.4,239.1 632.0,238.1 632.7,237.0 633.4,236.0 634.1,235.0 634.6,234.1 635.2,233.3 635.7,232.4 636.3,231.6 636.8,230.7 637.4,229.9 638.0,229.0 638.5,228.2 639.1,227.3 639.6,226.5 640.2,225.7 640.7,224.8 641.3,224.0 641.9,223.2 642.6,222.1 643.3,221.1 643.9,220.1 644.6,219.0 645.3,218.0 646.0,217.0 646.7,216.0 647.4,214.9 648.1,213.9 648.7,213.1 649.3,212.2 649.9,211.4 650.4,210.6 651.0,209.7 651.6,208.9 652.2,208.0 652.8,207.2 653.3,206.4 653.9,205.5 654.5,204.7 655.1,203.9 655.7,203.1 656.2,202.2 656.8,201.4 657.4,200.6 658.0,199.8 658.6,199.0 659.2,198.1 659.9,197.1 660.6,196.1 661.3,195.1 662.1,194.1 662.6,193.3 663.2,192.4 663.8,191.6 664.4,190.8 665.0,190.0 665.6,189.1 666.2,188.3 666.8,187.5 667.4,186.7 668.0,185.9 668.6,185.0 669.2,184.2 669.8,183.4 670.4,182.6 671.0,181.8 671.6,181.0 672.2,180.2 672.8,179.4 673.4,178.6 674.2,177.6 674.9,176.6 675.7,175.6 676.3,174.8 676.9,174.0 677.5,173.2 678.1,172.4 678.8,171.5 679.4,170.7 680.0,169.9 680.6,169.1 681.2,168.3 681.9,167.5 682.5,166.7 683.1,165.9 683.7,165.1 684.3,164.3 685.0,163.5 685.6,162.7 686.2,161.9 686.8,161.1 687.4,160.4 688.1,159.6 688.8,158.6 689.6,157.6 690.2,156.8 690.9,156.0 691.5,155.2 692.1,154.4 692.8,153.7 693.4,152.9 694.0,152.1 694.7,151.3 695.3,150.5 695.9,149.7 696.6,149.0 697.2,148.2 697.8,147.4 698.5,146.6 699.3,145.7 700.0,144.7 700.8,143.7 701.6,142.8 702.4,141.8 703.2,140.9 704.0,139.9 704.7,139.1 705.3,138.4 706.0,137.6 706.6,136.8 707.3,136.0 707.9,135.2 708.6,134.5 709.2,133.7 709.9,132.9 710.6,132.2 711.2,131.4 711.9,130.6 712.5,129.9 713.2,129.1 713.8,128.3 714.5,127.6 715.1,126.8 716.0,125.9 716.8,124.9 717.6,124.0 718.3,123.3 718.9,122.5 719.6,121.7 720.3,121.0 721.0,120.2 721.6,119.5 722.3,118.7 723.0,117.9 723.6,117.2 724.3,116.4 725.0,115.7 725.7,115.0 726.3,114.2 727.0,113.5 727.8,112.5 728.7,111.6 729.5,110.7 730.4,109.8 731.2,108.9 732.0,107.9 732.7,107.2 733.4,106.5 734.1,105.7 734.8,105.0 735.5,104.2 736.2,103.5 736.9,102.8 737.5,102.0 738.2,101.3 738.9,100.6 739.6,99.8 740.5,98.9 741.3,98.0 742.2,97.1 743.0,96.2 743.9,95.3 744.8,94.4 745.6,93.6 746.3,92.8 747.0,92.1 747.7,91.4 748.4,90.7 749.2,89.9 749.9,89.2 750.6,88.5 751.3,87.8 752.0,87.1 752.7,86.4 753.4,85.6 754.1,84.9 755.0,84.1 755.9,83.2 756.7,82.3 757.6,81.4 758.5,80.5 759.4,79.7 760.1,79.0 760.8,78.3 761.5,77.6 762.3,76.8 763.0,76.1 763.7,75.4 764.4,74.7 765.2,74.0 765.9,73.3 766.6,72.6 767.3,71.9 768.1,71.3 768.8,70.6 769.7,69.7 770.6,68.8 771.5,68.0 772.4,67.1 773.3,66.3 774.0,65.6 774.8,64.9 775.6,64.1 776.5,63.3 777.3,62.6 778.2,61.8 779.0,61.0 779.9,60.2 780.8,59.4 781.6,58.6 782.4,57.9 783.2,57.2 784.0,56.5 784.9,55.6 785.7,54.9 786.6,54.1 787.4,53.4 787.6,53.2"/>
<polyline fill="none" stroke="none" marker-start="url(#sqK2)" marker-mid="url(#sqK2)" marker-end="url(#sqK2)" points="787.6,53.2 788.1,54.1 788.6,55.1 789.1,56.0 789.7,57.0 790.3,58.1 790.8,59.0 791.3,59.9 791.8,60.9 792.4,61.9 792.9,62.9 793.5,64.0 794.0,65.0 794.6,66.0 795.2,67.0 795.7,68.0 796.3,69.0 796.8,69.9 797.3,70.9 797.9,71.9 798.5,73.0 799.0,73.9 799.5,74.8 800.0,75.6 800.5,76.5 801.0,77.4 801.5,78.3 801.9,79.1 802.4,80.0 802.9,80.9 803.4,81.8 803.9,82.6 804.4,83.5 804.9,84.4 805.4,85.2 805.9,86.1 806.4,87.0 807.0,87.9 807.5,88.7 808.1,89.8 808.7,90.9 809.3,92.0 810.0,93.0 810.6,94.1 811.2,95.2 811.9,96.3 812.5,97.3 813.0,98.2 813.5,99.1 814.0,99.9 814.5,100.8 815.1,101.6 815.6,102.5 816.1,103.4 816.6,104.2 817.1,105.1 817.6,105.9 818.1,106.8 818.7,107.7 819.2,108.5 819.7,109.4 820.2,110.3 820.7,111.1 821.3,112.0 821.8,112.8 822.3,113.7 822.8,114.6 823.4,115.4 823.9,116.3 824.4,117.1 825.0,118.0 825.5,118.9 826.0,119.7 826.6,120.6 827.1,121.4 827.6,122.3 828.2,123.2 828.7,124.0 829.2,124.9 829.7,125.7 830.3,126.6 830.8,127.4 831.3,128.3 831.9,129.1 832.4,130.0 832.9,130.8 833.5,131.7 834.0,132.5 834.6,133.4 835.1,134.2 835.6,135.1 836.2,135.9 836.7,136.8 837.3,137.6 837.8,138.5 838.4,139.3 838.9,140.2 839.4,141.0 840.0,141.9 840.7,142.9 841.2,143.8 841.7,144.6 842.3,145.5 842.8,146.3 843.4,147.1 843.9,148.0 844.5,148.8 845.0,149.7 845.6,150.5 846.1,151.3 846.7,152.2 847.2,153.0 847.8,153.9 848.3,154.7 848.9,155.5 849.4,156.4 850.0,157.2 850.5,158.1 851.1,158.9 851.8,160.0 852.5,161.0 853.2,162.0 853.9,163.1 854.6,164.1 855.3,165.1 855.8,166.0 856.4,166.8 856.9,167.6 857.5,168.5 858.1,169.3 858.6,170.1 859.2,171.0 859.7,171.8 860.3,172.6 860.9,173.5 861.4,174.3 862.0,175.1 862.6,175.9 863.1,176.8 863.7,177.6 864.3,178.4 864.8,179.3 865.4,180.1 866.0,180.9 866.6,181.8 867.1,182.6 867.7,183.4 868.3,184.3 868.9,185.1 869.4,185.9 870.0,186.7 870.6,187.6 871.2,188.4 871.7,189.2 872.3,190.1 872.9,190.9 873.5,191.7 874.1,192.6 874.7,193.4 875.2,194.2 875.8,195.0 876.4,195.9 877.0,196.7 877.6,197.5 878.1,198.3 878.7,199.1 879.3,200.0 879.9,200.8 880.5,201.6 881.1,202.4 881.6,203.3 882.2,204.1 882.8,204.9 883.4,205.7 884.0,206.5 884.6,207.4 885.2,208.2 885.8,209.0 886.4,209.8 886.9,210.6 887.5,211.5 888.1,212.3 888.7,213.1 889.3,213.9 889.9,214.7 890.5,215.5 891.1,216.3 891.7,217.2 892.3,218.0 892.9,218.8 893.5,219.6 894.1,220.4 894.6,221.2 895.2,222.0 895.8,222.8 896.4,223.6 897.0,224.5 897.6,225.3 898.2,226.1 898.8,226.9 899.4,227.7 900.0,228.5 900.6,229.3 901.2,230.1 901.8,230.9 902.4,231.7 903.0,232.5 903.6,233.3 904.2,234.1 904.8,234.9 905.4,235.8 906.1,236.6 906.7,237.4 907.3,238.2 907.9,239.0 908.5,239.8 909.1,240.6 909.7,241.4 910.3,242.2 910.9,243.0 911.5,243.8 912.1,244.6 912.7,245.4 913.3,246.2 914.0,247.0 914.6,247.8 915.3,248.8 916.1,249.8 916.7,250.6 917.3,251.4 917.9,252.1 918.5,252.9 919.1,253.7 919.7,254.5 920.4,255.3 921.0,256.1 921.6,256.9 922.2,257.7 922.8,258.5 923.4,259.3 924.1,260.1 924.7,260.9 925.3,261.7 925.9,262.5 926.5,263.3 927.2,264.0 927.8,264.8 928.5,265.8 929.3,266.8 930.1,267.8 930.9,268.8 931.6,269.7 932.4,270.7 933.0,271.5 933.6,272.3 934.3,273.1 934.9,273.9 935.5,274.7 936.1,275.4 936.8,276.2 937.4,277.0 938.0,277.8 938.6,278.6 939.3,279.4 939.9,280.1 940.5,280.9 941.2,281.7 941.8,282.5 942.6,283.5 943.3,284.4 944.1,285.4 944.9,286.4 945.7,287.3 946.5,288.3 947.3,289.3 948.1,290.3 948.8,291.2 949.5,292.0 950.1,292.8 950.7,293.6 951.4,294.3 952.0,295.1 952.6,295.9 953.3,296.7 953.9,297.4 954.5,298.2 955.2,299.0 955.8,299.8 956.5,300.5 957.1,301.3 957.8,302.2 958.5,303.0 959.2,303.9 960.0,304.8 960.7,305.7 961.5,306.6 962.2,307.5 963.0,308.4 963.7,309.3 964.5,310.2 965.2,311.0 965.9,311.9 966.6,312.7 967.2,313.5 968.0,314.4 968.7,315.3 969.4,316.1 970.1,317.0 970.8,317.8 971.0,318.0"/>
<polyline fill="none" stroke="none" marker-start="url(#ciR2)" marker-mid="url(#ciR2)" marker-end="url(#ciR2)" points="578.8,328.5 579.0,327.5 579.3,326.4 579.5,325.3 579.8,324.2 580.0,323.2 580.3,322.2 580.5,321.1 580.8,320.0 581.0,318.9 581.3,317.7 581.6,316.6 581.9,315.4 582.1,314.3 582.4,313.2 582.6,312.1 582.9,311.1 583.1,310.1 583.4,309.1 583.6,308.1 583.9,307.1 584.1,306.2 584.4,305.2 584.6,304.2 584.9,303.3 585.1,302.3 585.4,301.3 585.6,300.4 585.9,299.4 586.1,298.4 586.4,297.4 586.6,296.5 586.9,295.5 587.1,294.5 587.4,293.6 587.7,292.6 587.9,291.6 588.2,290.6 588.5,289.7 588.7,288.7 589.0,287.7 589.3,286.8 589.5,285.8 589.8,284.8 590.1,283.8 590.3,282.9 590.6,281.9 590.9,280.9 591.2,280.0 591.4,279.0 591.7,278.0 592.0,277.1 592.3,276.1 592.5,275.1 592.8,274.1 593.1,273.2 593.5,272.0 593.8,270.8 594.2,269.6 594.5,268.4 594.9,267.2 595.2,266.0 595.5,265.0 595.8,264.1 596.1,263.1 596.4,262.2 596.7,261.2 597.0,260.2 597.3,259.3 597.5,258.3 597.8,257.4 598.1,256.4 598.4,255.5 598.7,254.5 599.0,253.5 599.3,252.6 599.6,251.6 599.9,250.7 600.2,249.7 600.5,248.8 600.8,247.8 601.1,246.8 601.4,245.9 601.8,244.9 602.1,244.0 602.4,243.0 602.7,242.0 603.0,241.1 603.3,240.1 603.6,239.2 603.9,238.2 604.2,237.3 604.6,236.3 604.9,235.3 605.2,234.4 605.5,233.4 605.8,232.5 606.1,231.5 606.5,230.6 606.8,229.6 607.1,228.6 607.4,227.7 607.7,226.7 608.1,225.8 608.4,224.8 608.7,223.9 609.0,222.9 609.4,221.9 609.7,221.0 610.0,220.0 610.3,219.1 610.8,217.9 611.1,216.9 611.4,216.0 611.7,215.0 612.1,214.1 612.4,213.2 612.7,212.2 613.0,211.3 613.4,210.3 613.7,209.4 614.0,208.4 614.4,207.5 614.7,206.5 615.0,205.6 615.4,204.6 615.7,203.7 616.1,202.8 616.4,201.8 616.7,200.9 617.1,199.9 617.4,199.0 617.7,198.0 618.1,197.1 618.4,196.1 618.8,195.2 619.1,194.2 619.5,193.3 619.8,192.4 620.1,191.4 620.5,190.5 620.8,189.5 621.2,188.6 621.5,187.6 621.9,186.7 622.2,185.7 622.6,184.8 622.9,183.8 623.3,182.9 623.6,182.0 624.0,181.0 624.3,180.1 624.7,179.1 625.0,178.2 625.4,177.2 625.7,176.3 626.1,175.3 626.4,174.4 626.8,173.4 627.2,172.5 627.5,171.6 627.9,170.6 628.2,169.7 628.6,168.7 628.9,167.8 629.3,166.8 629.7,165.9 630.0,164.9 630.4,164.0 630.8,162.8 631.3,161.7 631.7,160.5 632.2,159.3 632.6,158.2 633.0,157.2 633.3,156.3 633.7,155.4 634.0,154.4 634.4,153.5 634.8,152.6 635.1,151.6 635.5,150.7 635.9,149.8 636.2,148.8 636.6,147.9 637.0,147.0 637.3,146.0 637.7,145.1 638.0,144.2 638.4,143.2 638.8,142.3 639.1,141.4 639.5,140.4 639.9,139.5 640.2,138.6 640.6,137.6 641.0,136.7 641.4,135.8 641.7,134.8 642.1,133.9 642.5,133.0 642.8,132.0 643.2,131.1 643.6,130.2 643.9,129.2 644.3,128.3 644.7,127.4 645.1,126.4 645.4,125.5 645.8,124.6 646.2,123.6 646.5,122.7 646.9,121.8 647.3,120.8 647.7,119.9 648.0,119.0 648.4,118.0 648.8,117.1 649.2,116.2 649.5,115.2 649.9,114.3 650.3,113.4 650.7,112.4 651.1,111.5 651.4,110.6 651.8,109.6 652.2,108.7 652.6,107.8 652.9,106.8 653.3,105.9 653.7,105.0 654.1,104.0 654.5,103.1 654.8,102.2 655.2,101.2 655.6,100.3 656.0,99.4 656.4,98.4 656.7,97.5 657.1,96.6 657.5,95.6 657.9,94.7 658.3,93.8 658.6,92.8 659.0,91.9 659.4,91.0 659.8,90.0 660.2,89.1 660.6,88.2 660.9,87.2 661.3,86.3 661.7,85.4 662.1,84.4 662.5,83.5 662.8,82.6 663.2,81.6 663.6,80.7 664.0,79.8 664.4,78.8 664.8,77.9 665.1,77.0 665.5,76.0 665.9,75.1 666.3,74.2 666.7,73.2 667.1,72.3 667.5,71.2 667.9,70.2 668.4,69.1 668.8,68.0 669.3,67.0 669.7,65.9 670.2,64.8 670.6,63.7 671.0,62.7 671.5,61.7 671.9,60.7 672.2,59.8 672.7,58.7 673.1,57.7 673.5,56.6 674.0,55.6 674.0,55.5"/>
<polyline fill="none" stroke="none" marker-start="url(#ciR2)" marker-mid="url(#ciR2)" marker-end="url(#ciR2)" points="674.0,55.5 674.3,56.5 674.6,57.6 675.0,58.6 675.3,59.7 675.6,60.7 675.9,61.7 676.2,62.7 676.6,63.8 676.9,64.9 677.2,66.0 677.6,67.1 677.9,68.3 678.3,69.4 678.6,70.4 678.9,71.5 679.3,72.5 679.6,73.5 679.9,74.5 680.1,75.4 680.4,76.4 680.7,77.3 681.0,78.3 681.3,79.3 681.6,80.2 681.9,81.2 682.2,82.1 682.5,83.1 682.8,84.0 683.1,85.0 683.4,86.0 683.7,86.9 684.0,87.9 684.3,88.8 684.6,89.8 684.9,90.8 685.2,91.7 685.5,92.7 685.8,93.6 686.1,94.6 686.4,95.6 686.7,96.5 687.0,97.5 687.3,98.4 687.6,99.4 687.9,100.4 688.2,101.3 688.5,102.3 688.9,103.2 689.2,104.2 689.5,105.2 689.8,106.1 690.1,107.1 690.4,108.0 690.7,109.0 691.0,110.0 691.3,110.9 691.6,111.9 691.9,112.8 692.2,113.8 692.5,114.8 692.8,115.7 693.1,116.7 693.4,117.6 693.7,118.6 694.0,119.6 694.3,120.5 694.6,121.5 694.9,122.4 695.2,123.4 695.6,124.4 695.9,125.3 696.2,126.3 696.5,127.2 696.8,128.2 697.1,129.2 697.4,130.1 697.7,131.1 698.0,132.0 698.3,133.0 698.6,134.0 698.9,134.9 699.2,135.9 699.6,136.8 699.9,137.8 700.2,138.7 700.5,139.7 700.8,140.7 701.1,141.6 701.4,142.6 701.7,143.5 702.0,144.5 702.4,145.5 702.7,146.4 703.0,147.4 703.3,148.3 703.6,149.3 703.9,150.3 704.2,151.2 704.5,152.2 704.9,153.1 705.2,154.1 705.5,155.1 705.8,156.0 706.1,157.0 706.4,157.9 706.7,158.9 707.1,159.9 707.4,160.8 707.7,161.8 708.0,162.7 708.3,163.7 708.6,164.7 708.9,165.6 709.3,166.6 709.6,167.5 709.9,168.5 710.2,169.5 710.5,170.4 710.8,171.4 711.2,172.3 711.5,173.3 711.8,174.3 712.1,175.2 712.4,176.2 712.8,177.1 713.1,178.1 713.4,179.1 713.7,180.0 714.0,181.0 714.4,181.9 714.7,182.9 715.0,183.9 715.3,184.8 715.6,185.8 716.0,186.7 716.3,187.7 716.6,188.7 716.9,189.6 717.3,190.6 717.6,191.5 717.9,192.5 718.2,193.4 718.6,194.4 718.9,195.4 719.2,196.3 719.5,197.3 719.8,198.2 720.2,199.4 720.6,200.6 721.0,201.6 721.3,202.5 721.6,203.4 721.9,204.4 722.3,205.3 722.6,206.3 722.9,207.2 723.2,208.2 723.6,209.1 723.9,210.1 724.2,211.0 724.5,212.0 724.9,212.9 725.2,213.9 725.5,214.8 725.8,215.8 726.2,216.7 726.5,217.6 726.8,218.6 727.1,219.5 727.5,220.5 727.8,221.4 728.1,222.4 728.4,223.3 728.8,224.3 729.1,225.2 729.4,226.2 729.8,227.1 730.1,228.1 730.4,229.0 730.8,230.0 731.1,230.9 731.4,231.8 731.7,232.8 732.1,233.7 732.4,234.7 732.7,235.6 733.1,236.6 733.4,237.5 733.7,238.5 734.1,239.4 734.4,240.4 734.7,241.3 735.1,242.3 735.4,243.2 735.7,244.2 736.1,245.1 736.4,246.1 736.8,247.0 737.1,247.9 737.4,248.9 737.8,249.8 738.1,250.8 738.4,251.7 738.8,252.7 739.1,253.6 739.5,254.6 739.8,255.5 740.1,256.5 740.5,257.4 740.8,258.4 741.2,259.3 741.5,260.3 741.8,261.2 742.2,262.1 742.5,263.1 742.9,264.0 743.2,265.0 743.5,265.9 743.9,266.9 744.2,267.8 744.6,268.8 744.9,269.7 745.3,270.7 745.6,271.6 746.0,272.6 746.3,273.5 746.6,274.5 747.0,275.4 747.3,276.4 747.7,277.3 748.0,278.2 748.4,279.2 748.7,280.1 749.1,281.1 749.4,282.0 749.8,283.0 750.1,283.9 750.5,284.9 750.8,285.8 751.2,286.8 751.5,287.7 751.9,288.7 752.2,289.6 752.6,290.6 752.9,291.5 753.3,292.4 753.6,293.4 754.0,294.3 754.3,295.3 754.7,296.2 755.1,297.2 755.4,298.1 755.8,299.1 756.1,300.0 756.5,301.0 756.8,301.9 757.2,302.9 757.5,303.8 757.9,304.8 758.3,305.8 758.7,306.8 759.1,307.9 759.5,309.0 759.9,310.1 760.3,311.2 760.8,312.3 761.2,313.4 761.6,314.4 762.0,315.5 762.4,316.5 762.7,317.4 763.2,318.6 763.6,319.6 764.0,320.7 764.4,321.7 764.4,321.8"/>
<polyline fill="none" stroke="none" marker-start="url(#trB2)" marker-mid="url(#trB2)" marker-end="url(#trB2)" points="578.6,329.0 579.9,322.8 580.5,316.4 581.1,309.9 581.7,303.5 582.3,297.1 583.0,290.7 583.7,284.3 584.4,278.0 585.1,271.5 585.8,265.2 586.7,258.9 587.6,252.6 588.7,246.3 589.8,240.0 591.2,233.7 592.2,227.3 593.0,220.9 593.9,214.5 594.7,208.2 595.7,201.7 596.8,195.2 597.9,189.0 599.0,182.7 600.1,176.4 601.2,169.9 602.3,163.6 603.5,157.3 604.6,150.9 605.8,144.6 606.9,138.1 608.0,131.8 609.1,125.4 610.1,119.0 611.2,112.5 612.3,106.1 613.4,99.6 614.5,93.2 615.6,86.9 616.8,80.5 618.1,74.1 619.5,67.9 621.1,61.6 623.0,55.5 624.0,52.5"/>
<polyline fill="none" stroke="none" marker-start="url(#trB2)" marker-mid="url(#trB2)" marker-end="url(#trB2)" points="624.0,52.5 625.2,59.3 626.3,66.1 627.4,72.9 628.2,79.7 629.1,86.5 629.9,93.3 630.8,100.1 631.7,106.9 632.6,113.7 633.6,120.5 634.6,127.3 635.6,134.1 636.7,140.9 637.9,147.7 639.4,154.5 640.9,161.3 641.9,168.1 642.9,174.9 643.9,181.7 645.0,188.5 646.2,195.3 647.2,202.1 648.1,208.9 648.9,215.7 650.0,222.5 651.3,229.3 652.8,236.1 654.1,242.9 655.2,249.7 656.2,256.5 657.0,263.3 657.9,270.1 659.1,276.9 660.5,283.7 661.9,290.5 663.2,297.3 664.6,304.1 666.1,310.9 667.7,317.7 669.6,324.5"/>
<polyline fill="none" stroke="none" marker-start="url(#tdT)" marker-mid="url(#tdT)" marker-end="url(#tdT)" points="578.9,322.0 580.3,284.0 581.4,247.0 582.3,214.0 582.6,179.0 583.8,145.0 585.2,113.0 586.3,82.0 587.5,50.0"/>
<polyline fill="none" stroke="none" marker-start="url(#tdT)" marker-mid="url(#tdT)" marker-end="url(#tdT)" points="587.5,50.0 587.5,54.5 588.0,64.0 588.8,99.0 589.5,133.5 590.6,168.0 591.6,203.6 593.2,237.2 594.2,272.0 595.3,304.2 596.1,321.0 596.2,327.0"/>
<g font-family="Liberation Serif" font-size="17.6" fill="#111">
<text x="585" y="37.7">1600 mA g<tspan font-size="10" dy="-7">-1</tspan></text>
<text x="668.1" y="299.3">800 mA g<tspan font-size="10" dy="-7">-1</tspan></text>
<text x="794" y="295.8">400 mA g<tspan font-size="10" dy="-7">-1</tspan></text>
<text x="921.2" y="244.6">200 mA g<tspan font-size="10" dy="-7">-1</tspan></text>
</g>
<g stroke="#111" stroke-width="0.85" fill="none">
<path d="M592.2,51.3 L604.7,42" marker-end="url(#ahS)"/>
<path d="M671.2,316.9 L683.9,308" marker-end="url(#ahS)"/>
<path d="M765.9,313.4 L790.8,299.3" marker-end="url(#ahS)"/>
<path d="M942.1,273.3 L963.6,250" marker-end="url(#ahS)"/>
</g>
</svg></body></html>
